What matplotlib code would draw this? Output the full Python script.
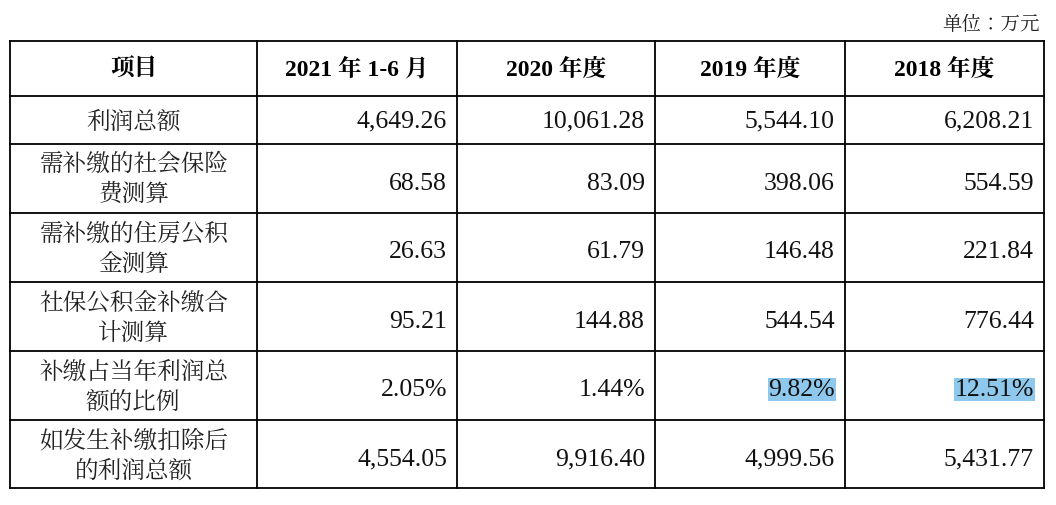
import matplotlib
matplotlib.use("Agg")
import matplotlib.pyplot as plt
from matplotlib import font_manager as fm

header = ["项目", "2021 年 1-6 月", "2020 年度", "2019 年度", "2018 年度"]
row_labels = ["利润总额", "需补缴的社会保险\n费测算", "需补缴的住房公积\n金测算",
              "社保公积金补缴合\n计测算", "补缴占当年利润总\n额的比例", "如发生补缴扣除后\n的利润总额"]
col_2021 = ["4,649.26", "68.58", "26.63", "95.21", "2.05%", "4,554.05"]
col_2020 = ["10,061.28", "83.09", "61.79", "144.88", "1.44%", "9,916.40"]
col_2019 = ["5,544.10", "398.06", "146.48", "544.54", "9.82%", "4,999.56"]
col_2018 = ["6,208.21", "554.59", "221.84", "776.44", "12.51%", "5,431.77"]
highlight = {(4, 3), (4, 4)}
unit = "单位：万元"

cols = [col_2021, col_2020, col_2019, col_2018]
xs = [10, 257, 457, 655, 845, 1044]
ys = [42, 97, 145, 214, 283, 352, 421, 489]

cjk_file = None
for f in fm.fontManager.ttflist:
    if "CJK" in f.name and ("SC" in f.name or cjk_file is None):
        cjk_file = f.fname
        if "SC" in f.name:
            break
if cjk_file is None:
    import glob
    c = glob.glob("/usr/share/fonts/**/*CJK*", recursive=True)
    cjk_file = c[0] if c else None
fm.fontManager.addfont(cjk_file)
cjk = fm.FontProperties(fname=cjk_file).get_name()
serif = "Liberation Serif"

fig = plt.figure(figsize=(10.56, 5.06), dpi=100)
ax = fig.add_axes([0, 0, 1, 1])
ax.set_xlim(0, 1056); ax.set_ylim(506, 0); ax.axis("off")

for x in xs:
    ax.plot([x, x], [ys[0], ys[-1]], color="black", lw=1.3)
for y in ys:
    ax.plot([xs[0], xs[-1]], [y, y], color="black", lw=1.3)

ax.text(1040, 25, unit, ha="right", va="center", fontsize=14, fontfamily=cjk, color="#222")

for j, h in enumerate(header):
    cx = (xs[j] + xs[j + 1]) / 2
    ax.text(cx, (ys[0] + ys[1]) / 2, h, ha="center", va="center", fontsize=17,
            fontweight="bold", fontfamily=[serif, cjk])

for i, lab in enumerate(row_labels):
    y0, y1 = ys[i + 1], ys[i + 2]
    ax.text((xs[0] + xs[1]) / 2, (y0 + y1) / 2, lab, ha="center", va="center",
            fontsize=17, fontfamily=cjk, linespacing=1.2, color="#222")
    for j, col in enumerate(cols):
        tx = xs[j + 2] - 10
        ty = (y0 + y1) / 2 + 4 if i > 0 else (y0 + y1) / 2
        t = ax.text(tx, ty, col[i], ha="right", va="center", fontsize=18.5,
                    fontfamily=serif, color="#111")
        if (i, j + 1) in highlight:
            t.set_bbox(dict(facecolor="#8ec8ec", edgecolor="none", pad=0.5))

fig.savefig("out.png", dpi=100)
